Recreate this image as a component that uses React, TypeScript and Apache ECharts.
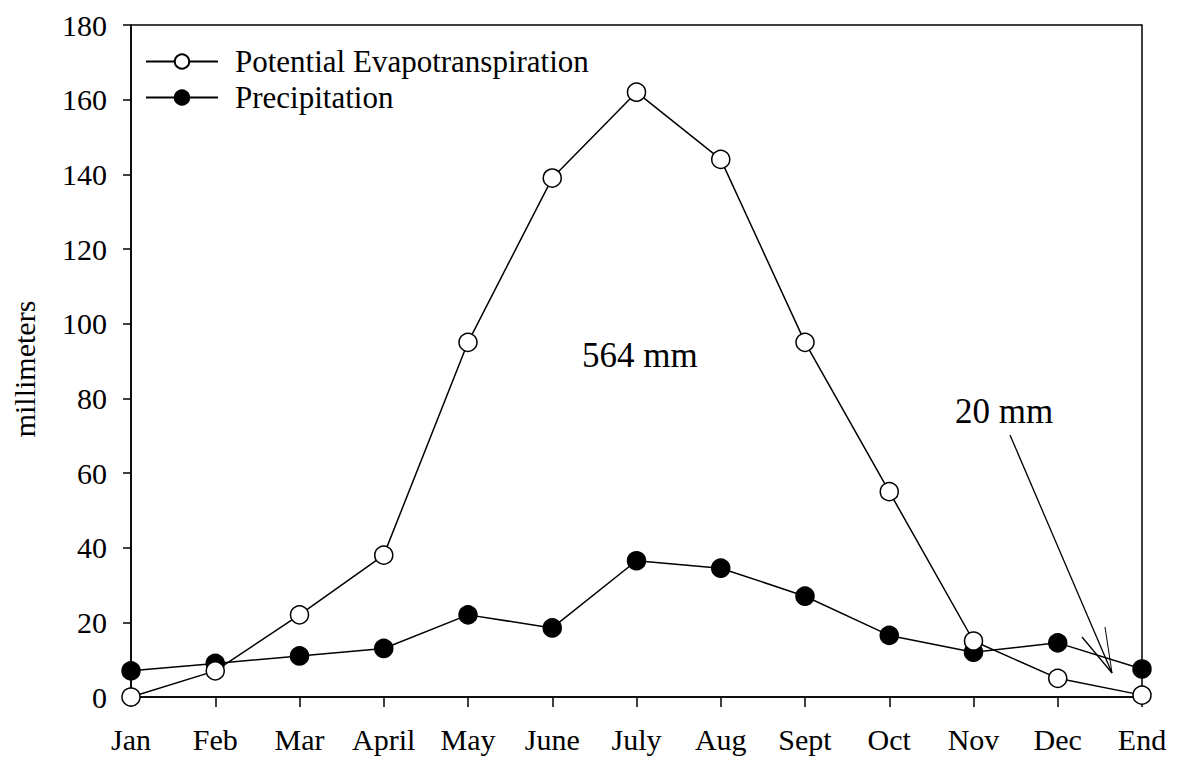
import React, { useEffect, useRef } from "react";
import * as echarts from "echarts";

const months = ["Jan", "Feb", "Mar", "April", "May", "June", "July", "Aug", "Sept", "Oct", "Nov", "Dec", "End"];
const pet = [0, 7, 22, 38, 95, 139, 162, 144, 95, 55, 15, 5, 0.5];
const precip = [7, 9, 11, 13, 22, 18.5, 36.5, 34.5, 27, 16.5, 12, 14.5, 7.5];
const yTicks = { min: 0, max: 180, interval: 20 };

const FONT = "'Liberation Serif', 'Times New Roman', serif";

export default function App() {
  const ref = useRef<HTMLDivElement>(null);
  useEffect(() => {
    document.body.style.margin = "0";
    const chart = echarts.init(ref.current!, null, { renderer: "svg" });
    chart.setOption({
      animation: false,
      backgroundColor: "#fff",
      textStyle: { fontFamily: FONT, color: "#000" },
      grid: {
        left: 131,
        right: 38,
        top: 25,
        bottom: 65,
        show: true,
        borderColor: "#000",
        borderWidth: 1.5,
      },
      legend: {
        orient: "vertical",
        left: 145,
        top: 46,
        padding: 0,
        itemWidth: 72,
        itemHeight: 18,
        itemGap: 5,
        textStyle: { fontFamily: FONT, fontSize: 31, lineHeight: 31, color: "#000", padding: [0, 0, 0, 12] },
        data: ["Potential Evapotranspiration", "Precipitation"],
      },
      xAxis: {
        type: "category",
        data: months,
        boundaryGap: false,
        axisLine: { lineStyle: { color: "#000", width: 1.5 } },
        axisTick: { show: true, length: 10, inside: false, lineStyle: { color: "#000", width: 1.5 } },
        axisLabel: { fontFamily: FONT, fontSize: 30, color: "#000", margin: 27 },
        splitLine: { show: false },
      },
      yAxis: {
        type: "value",
        min: yTicks.min,
        max: yTicks.max,
        interval: yTicks.interval,
        name: "millimeters",
        nameLocation: "middle",
        nameGap: 92,
        nameTextStyle: { fontFamily: FONT, fontSize: 30, color: "#000", padding: [0, 16, 0, 0] },
        axisLine: { show: true, lineStyle: { color: "#000", width: 1.5 } },
        axisTick: { show: true, length: 8, inside: false, lineStyle: { color: "#000", width: 1.5 } },
        axisLabel: { fontFamily: FONT, fontSize: 30, color: "#000", margin: 24 },
        splitLine: { show: false },
      },
      series: [
        {
          name: "Potential Evapotranspiration",
          type: "line",
          data: pet,
          symbol: "circle",
          symbolSize: 18,
          z: 3,
          lineStyle: { color: "#000", width: 1.5 },
          itemStyle: { color: "#fff", borderColor: "#000", borderWidth: 1.5 },
        },
        {
          name: "Precipitation",
          type: "line",
          data: precip,
          symbol: "circle",
          symbolSize: 18,
          z: 2,
          lineStyle: { color: "#000", width: 1.5 },
          itemStyle: { color: "#000", borderColor: "#000", borderWidth: 1.5 },
        },
      ],
      graphic: [
        {
          type: "text",
          x: 582,
          y: 355,
          style: { text: "564 mm", font: `35px ${FONT}`, fill: "#000", textVerticalAlign: "middle", verticalAlign: "middle" },
        },
        {
          type: "text",
          x: 955,
          y: 411,
          style: { text: "20 mm", font: `35px ${FONT}`, fill: "#000", textVerticalAlign: "middle", verticalAlign: "middle" },
        },
        {
          type: "line",
          shape: { x1: 1010, y1: 435, x2: 1112, y2: 673 },
          style: { stroke: "#000", lineWidth: 1.3 },
        },
        {
          type: "line",
          shape: { x1: 1082, y1: 637, x2: 1112, y2: 673 },
          style: { stroke: "#000", lineWidth: 1.3 },
        },
        {
          type: "line",
          shape: { x1: 1105, y1: 627, x2: 1112, y2: 673 },
          style: { stroke: "#000", lineWidth: 1 },
        },
      ],
    });
    return () => chart.dispose();
  }, []);
  return <div ref={ref} style={{ width: 1180, height: 762 }} />;
}
